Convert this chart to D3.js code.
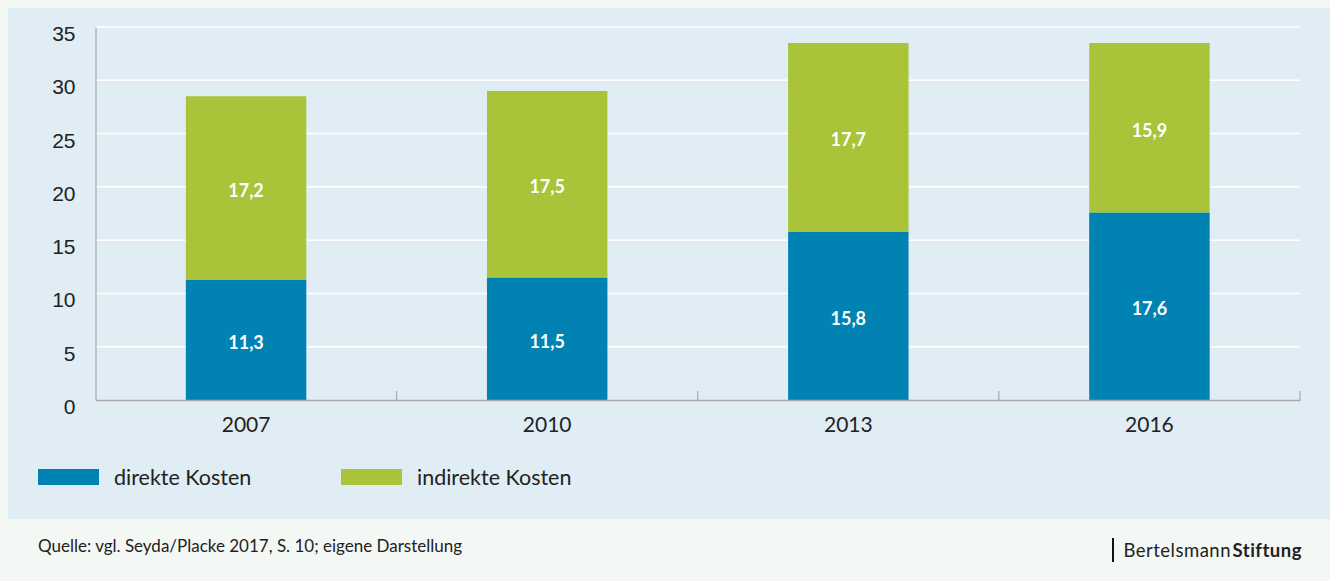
<!DOCTYPE html>
<html><head><meta charset="utf-8">
<script src="https://cdn.jsdelivr.net/npm/d3@7"></script>
<style>body{margin:0;background:#f4f8f5;}svg{display:block;}</style>
</head><body>
<script>
const categories = ["2007", "2010", "2013", "2016"];
const direkteKosten = [11.3, 11.5, 15.8, 17.6];
const indirekteKosten = [17.2, 17.5, 17.7, 15.9];
const yTicks = [0, 5, 10, 15, 20, 25, 30, 35];
const seriesNames = ["direkte Kosten", "indirekte Kosten"];
const colors = ["#0083b3", "#a9c438"];
const source = "Quelle: vgl. Seyda/Placke 2017, S. 10; eigene Darstellung";

const W = 1330, H = 581;
const svg = d3.select("body").append("svg").attr("width", W).attr("height", H);
svg.append("rect").attr("width", W).attr("height", H).attr("fill", "#f4f8f5");
svg.append("rect").attr("x", 8).attr("y", 8).attr("width", W - 8).attr("height", 511).attr("fill", "#e0edf5");

const x0 = 95.5, x1 = 1300, y0 = 400, y1 = 27;
const x = d3.scaleBand().domain(categories).range([x0, x1]).paddingInner(0.6).paddingOuter(0.3);
const xb = d3.scaleBand().domain(categories).range([x0, x1]);
const y = d3.scaleLinear().domain([0, 35]).range([y0, y1]);

// gridlines
svg.append("g").selectAll("line").data(yTicks.filter(d => d > 0)).join("line")
  .attr("x1", x0).attr("x2", x1).attr("y1", d => y(d)).attr("y2", d => y(d))
  .attr("stroke", "#ffffff").attr("stroke-width", 1.5);

// y axis
const yAxis = svg.append("g").attr("transform", `translate(${x0},0)`)
  .call(d3.axisLeft(y).tickValues(yTicks).tickSize(0).tickPadding(20));
yAxis.select(".domain").attr("stroke", "#aaaaaa").attr("stroke-width", 1.2);
yAxis.selectAll("text").attr("font-family", "Liberation Sans, Arial, sans-serif")
  .attr("font-size", 21).attr("fill", "#222").attr("dy", "0.64em");

// stacked data
const data = categories.map((c, i) => ({cat: c, d: direkteKosten[i], i2: indirekteKosten[i]}));
const stack = d3.stack().keys(["d", "i2"])(data);

const g = svg.append("g");
stack.forEach((s, si) => {
  g.selectAll(null).data(s).join("rect")
    .attr("x", d => x(d.data.cat)).attr("width", x.bandwidth())
    .attr("y", d => y(d[1])).attr("height", d => y(d[0]) - y(d[1]))
    .attr("fill", colors[si]);
  g.selectAll(null).data(s).join("text")
    .attr("x", d => x(d.data.cat) + x.bandwidth() / 2)
    .attr("y", d => (y(d[0]) + y(d[1])) / 2 + 2)
    .attr("text-anchor", "middle").attr("dominant-baseline", "central")
    .attr("font-family", "Lato, sans-serif").attr("font-weight", "bold")
    .attr("font-size", 18).attr("fill", "#ffffff")
    .text(d => d3.format(".1f")(d[1] - d[0]).replace(".", ","));
});

// x axis
const xAxis = svg.append("g").attr("transform", `translate(0,${y0})`)
  .call(d3.axisBottom(xb).tickSize(0).tickPadding(0));
xAxis.select(".domain").attr("stroke", "#aaaaaa").attr("stroke-width", 1.5);
xAxis.selectAll("text").attr("font-family", "Lato, sans-serif").attr("font-size", 21)
  .attr("fill", "#222").attr("dy", null).attr("y", 32);
// separators between categories
svg.append("g").selectAll("line").data(categories.slice(1).concat(["end"])).join("line")
  .attr("x1", (d, i) => x0 + xb.step() * (i + 1)).attr("x2", (d, i) => x0 + xb.step() * (i + 1))
  .attr("y1", y0 - 9).attr("y2", y0).attr("stroke", "#aaaaaa").attr("stroke-width", 1.2);

// legend
const leg = svg.append("g");
const legX = [38, 341];
seriesNames.forEach((n, i) => {
  leg.append("rect").attr("x", legX[i]).attr("y", 469).attr("width", 61).attr("height", 16).attr("fill", colors[i]);
  leg.append("text").attr("x", legX[i] + 76).attr("y", 485).attr("font-family", "Lato, sans-serif")
    .attr("font-size", 21.5).attr("fill", "#222").text(n);
});

// footer
svg.append("text").attr("x", 38).attr("y", 552).attr("font-family", "Lato, sans-serif")
  .attr("font-size", 17).attr("fill", "#222").text(source);
svg.append("rect").attr("x", 1112).attr("y", 538).attr("width", 2).attr("height", 24).attr("fill", "#111");
const logo = svg.append("text").attr("x", 1302).attr("y", 556.5).attr("text-anchor", "end")
  .attr("font-family", "Lato, sans-serif").attr("font-size", 18.5).attr("fill", "#222")
  .attr("letter-spacing", 0.5);
logo.append("tspan").text("Bertelsmann");
logo.append("tspan").attr("font-weight", "bold").attr("dx", 1.5).text("Stiftung");
</script>
</body></html>
